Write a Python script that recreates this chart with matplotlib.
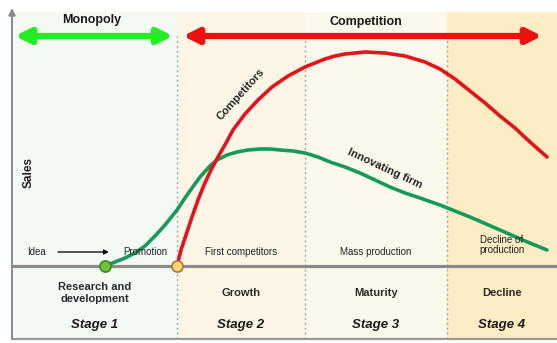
import matplotlib.pyplot as plt
import numpy as np

plt.rcParams['font.family'] = ['Liberation Sans', 'DejaVu Sans']

# time runs from the vertical axis, sales from the baseline
stage_edges = [0, 165, 293, 435, 545]
stage_colors = ['#f3faf4', '#fdf6e6', '#fdf8ec', '#fdedc4']
stage_names = ['Research and\ndevelopment', 'Growth', 'Maturity', 'Decline']
stage_labels = ['Stage 1', 'Stage 2', 'Stage 3', 'Stage 4']
event_labels = ['First competitors', 'Mass production', 'Decline of\nproduction']

competitors_t = [165, 169, 174, 180, 186, 192, 199, 206, 214, 221, 233, 246, 260, 276, 293,
                 303, 313, 323, 333, 353, 373, 393, 413, 428, 443, 458, 473, 488, 503, 518, 535]
competitors_s = [0, 16, 31, 49, 66, 81, 96, 109, 123, 136, 152, 166, 179, 190, 199,
                 203, 207, 210, 212, 214, 213, 210, 204, 197, 187, 175, 163, 150, 138, 124, 109]

firm_t = [93, 103, 113, 123, 133, 143, 153, 165, 175, 188, 198, 205, 215, 225, 236, 248, 258,
          268, 281, 293, 306, 318, 333, 348, 363, 378, 393, 408, 428, 458, 488, 513, 535]
firm_s = [0, 4, 8, 13, 20, 30, 41, 56, 71, 89, 100, 106, 111, 114, 116, 117, 117,
          116, 115, 113, 109, 104, 99, 93, 86, 79, 73, 68, 61, 49, 36, 25, 16]

green_start = 93
yellow_start = 165

fig = plt.figure(figsize=(5.57, 3.43), dpi=100)
ax = fig.add_axes([0, 0, 1, 1])
ax.set_xlim(-12, 545)
ax.set_ylim(-77, 266)
ax.axis('off')

# stage backgrounds and dotted separators
for i in range(4):
    ax.axvspan(stage_edges[i], stage_edges[i + 1] + 12, ymin=0.012, ymax=0.965,
               color=stage_colors[i], lw=0, zorder=0)
for t in stage_edges[1:4]:
    ax.plot([t, t], [-73, 230], ls=(0, (1.5, 2)), color='#a8a8a8', lw=1, zorder=1)

# baseline, bottom frame, vertical axis
ax.plot([0, 545], [0, 0], color='#8a8a8a', lw=2.3, zorder=2)
ax.plot([0, 545], [-73, -73], color='#9a9a9a', lw=1.6, zorder=2)
ax.annotate('', xy=(0, 258), xytext=(0, -73),
            arrowprops=dict(arrowstyle='-|>', color='#8a8a8a', lw=1.4,
                            mutation_scale=10, shrinkA=0, shrinkB=0))

# curves
ax.plot(competitors_t, competitors_s, color='#e3121b', lw=2.6, zorder=4,
        solid_capstyle='round', solid_joinstyle='round')
ax.plot(firm_t, firm_s, color='#159a5c', lw=2.6, zorder=3,
        solid_capstyle='round', solid_joinstyle='round')
ax.plot(green_start, 0, 'o', ms=8, mfc='#6cc23a', mec='#3d8a1c', mew=1.2, zorder=5)
ax.plot(yellow_start, 0, 'o', ms=8, mfc='#ffd47a', mec='#a8782a', mew=1.2, zorder=5)

# monopoly / competition arrows
ax.annotate('', xy=(3, 230), xytext=(161, 230),
            arrowprops=dict(arrowstyle='<|-|>', color='#22ee22', lw=4.5,
                            mutation_scale=22, shrinkA=0, shrinkB=0))
ax.annotate('', xy=(171, 230), xytext=(530, 230),
            arrowprops=dict(arrowstyle='<|-|>', color='#ee1111', lw=4.5,
                            mutation_scale=22, shrinkA=0, shrinkB=0))
ax.text(80, 246, 'Monopoly', ha='center', va='center', fontsize=9,
        fontweight='bold', color='#1a1a1a')
ax.text(354, 244, 'Competition', ha='center', va='center', fontsize=9,
        fontweight='bold', color='#1a1a1a')

# labels on curves
ax.text(17, 94, 'Sales', rotation=90, ha='center', va='center', fontsize=8.5,
        fontweight='bold', color='#222222')
ax.text(229, 172, 'Competitors', rotation=48, ha='center', va='center',
        fontsize=8, fontweight='bold', color='#222222')
ax.text(373, 97, 'Innovating firm', rotation=-25, ha='center', va='center',
        fontsize=8, fontweight='bold', color='#222222')

# events above the baseline
ax.text(24, 14, 'Idea', ha='center', va='center', fontsize=7, color='#222222')
ax.annotate('', xy=(97, 14), xytext=(46, 14),
            arrowprops=dict(arrowstyle='-|>', color='#111111', lw=1,
                            mutation_scale=7, shrinkA=0, shrinkB=0))
ax.text(133, 14, 'Promotion', ha='center', va='center', fontsize=7, color='#222222')
for i, lab in enumerate(event_labels):
    mid = (stage_edges[i + 1] + stage_edges[i + 2]) / 2
    ax.text(mid, 21 if '\n' in lab else 14, lab, ha='center', va='center',
            fontsize=7, color='#222222', linespacing=1.1)

# stage names below the baseline
for i in range(4):
    mid = (stage_edges[i] + stage_edges[i + 1]) / 2
    ax.text(mid, -27, stage_names[i], ha='center', va='center', fontsize=8,
            fontweight='bold', color='#2a2a2a', linespacing=1.2)
    ax.text(mid, -59, stage_labels[i], ha='center', va='center', fontsize=9.5,
            fontweight='bold', fontstyle='italic', color='#1a1a1a')

fig.savefig('out.png', dpi=100, facecolor='white')
